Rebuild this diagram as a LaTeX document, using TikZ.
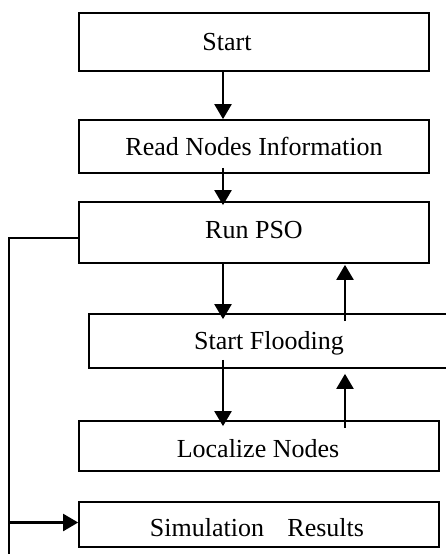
\documentclass[tikz,border=0pt]{standalone}
\usepackage{fontspec}
\setmainfont{Liberation Serif}
\usetikzlibrary{arrows.meta}
\begin{document}
\begin{tikzpicture}[x=1pt,y=-1pt,
  box/.style={draw,line width=1.7pt,inner sep=0pt},
  txt/.style={anchor=base,inner sep=0pt,font=\fontsize{26}{30}\selectfont},
  arr/.style={line width=2.2pt,-{Triangle[length=15pt,width=17pt]}},
  ln/.style={line width=2.2pt}]
\useasboundingbox (0,0) rectangle (446,554);
% process boxes
\node[box,minimum width=350pt,minimum height=58pt] (start) at (254,42) {};
\node[box,minimum width=350pt,minimum height=53pt] (read) at (254,146.5) {};
\node[box,minimum width=350pt,minimum height=61pt] (run) at (254,232.5) {};
\node[box,minimum width=381pt,minimum height=54pt] (flood) at (279.5,341) {};
\node[box,minimum width=360pt,minimum height=50pt] (loc) at (259,446) {};
\node[box,minimum width=360pt,minimum height=45pt] (sim) at (259,524.5) {};
% labels
\node[txt] (tstart) at (227,50) {Start};
\node[txt] (tread) at (254,155) {Read Nodes Information};
\node[txt] (trun) at (254,238) {Run PSO};
\node[txt] (tflood) at (269,349) {Start Flooding};
\node[txt] (tloc) at (258,457) {Localize Nodes};
\node[txt] (tsim) at (257,536) {Simulation\hspace{0.9em}Results};
% connector columns
\coordinate (xa) at (223,0);
\coordinate (xb) at (345,0);
\coordinate (xl) at (9,0);
\coordinate (bot) at (9,560);
% downward flow
\draw[arr] (start.south -| xa) -- (read.north -| xa);
\draw[arr] ([yshift=6pt]read.south -| xa) -- ([yshift=-4pt]run.north -| xa);
\draw[arr] (run.south -| xa) -- ([yshift=-6pt]flood.north -| xa);
\draw[arr] ([yshift=9pt]flood.south -| xa) -- ([yshift=-6pt]loc.north -| xa);
% feedback upward
\draw[arr] ([yshift=-8pt]loc.north -| xb) -- ([yshift=-5pt]flood.south -| xb);
\draw[arr] ([yshift=-8pt]flood.north -| xb) -- ([yshift=-1pt]run.south -| xb);
% side loop to results
\draw[ln] ([yshift=-5.5pt]run.west) -| (bot);
\draw[arr] ([yshift=2pt]sim.west -| xl) -- ([yshift=2pt]sim.west);
\end{tikzpicture}
\end{document}
